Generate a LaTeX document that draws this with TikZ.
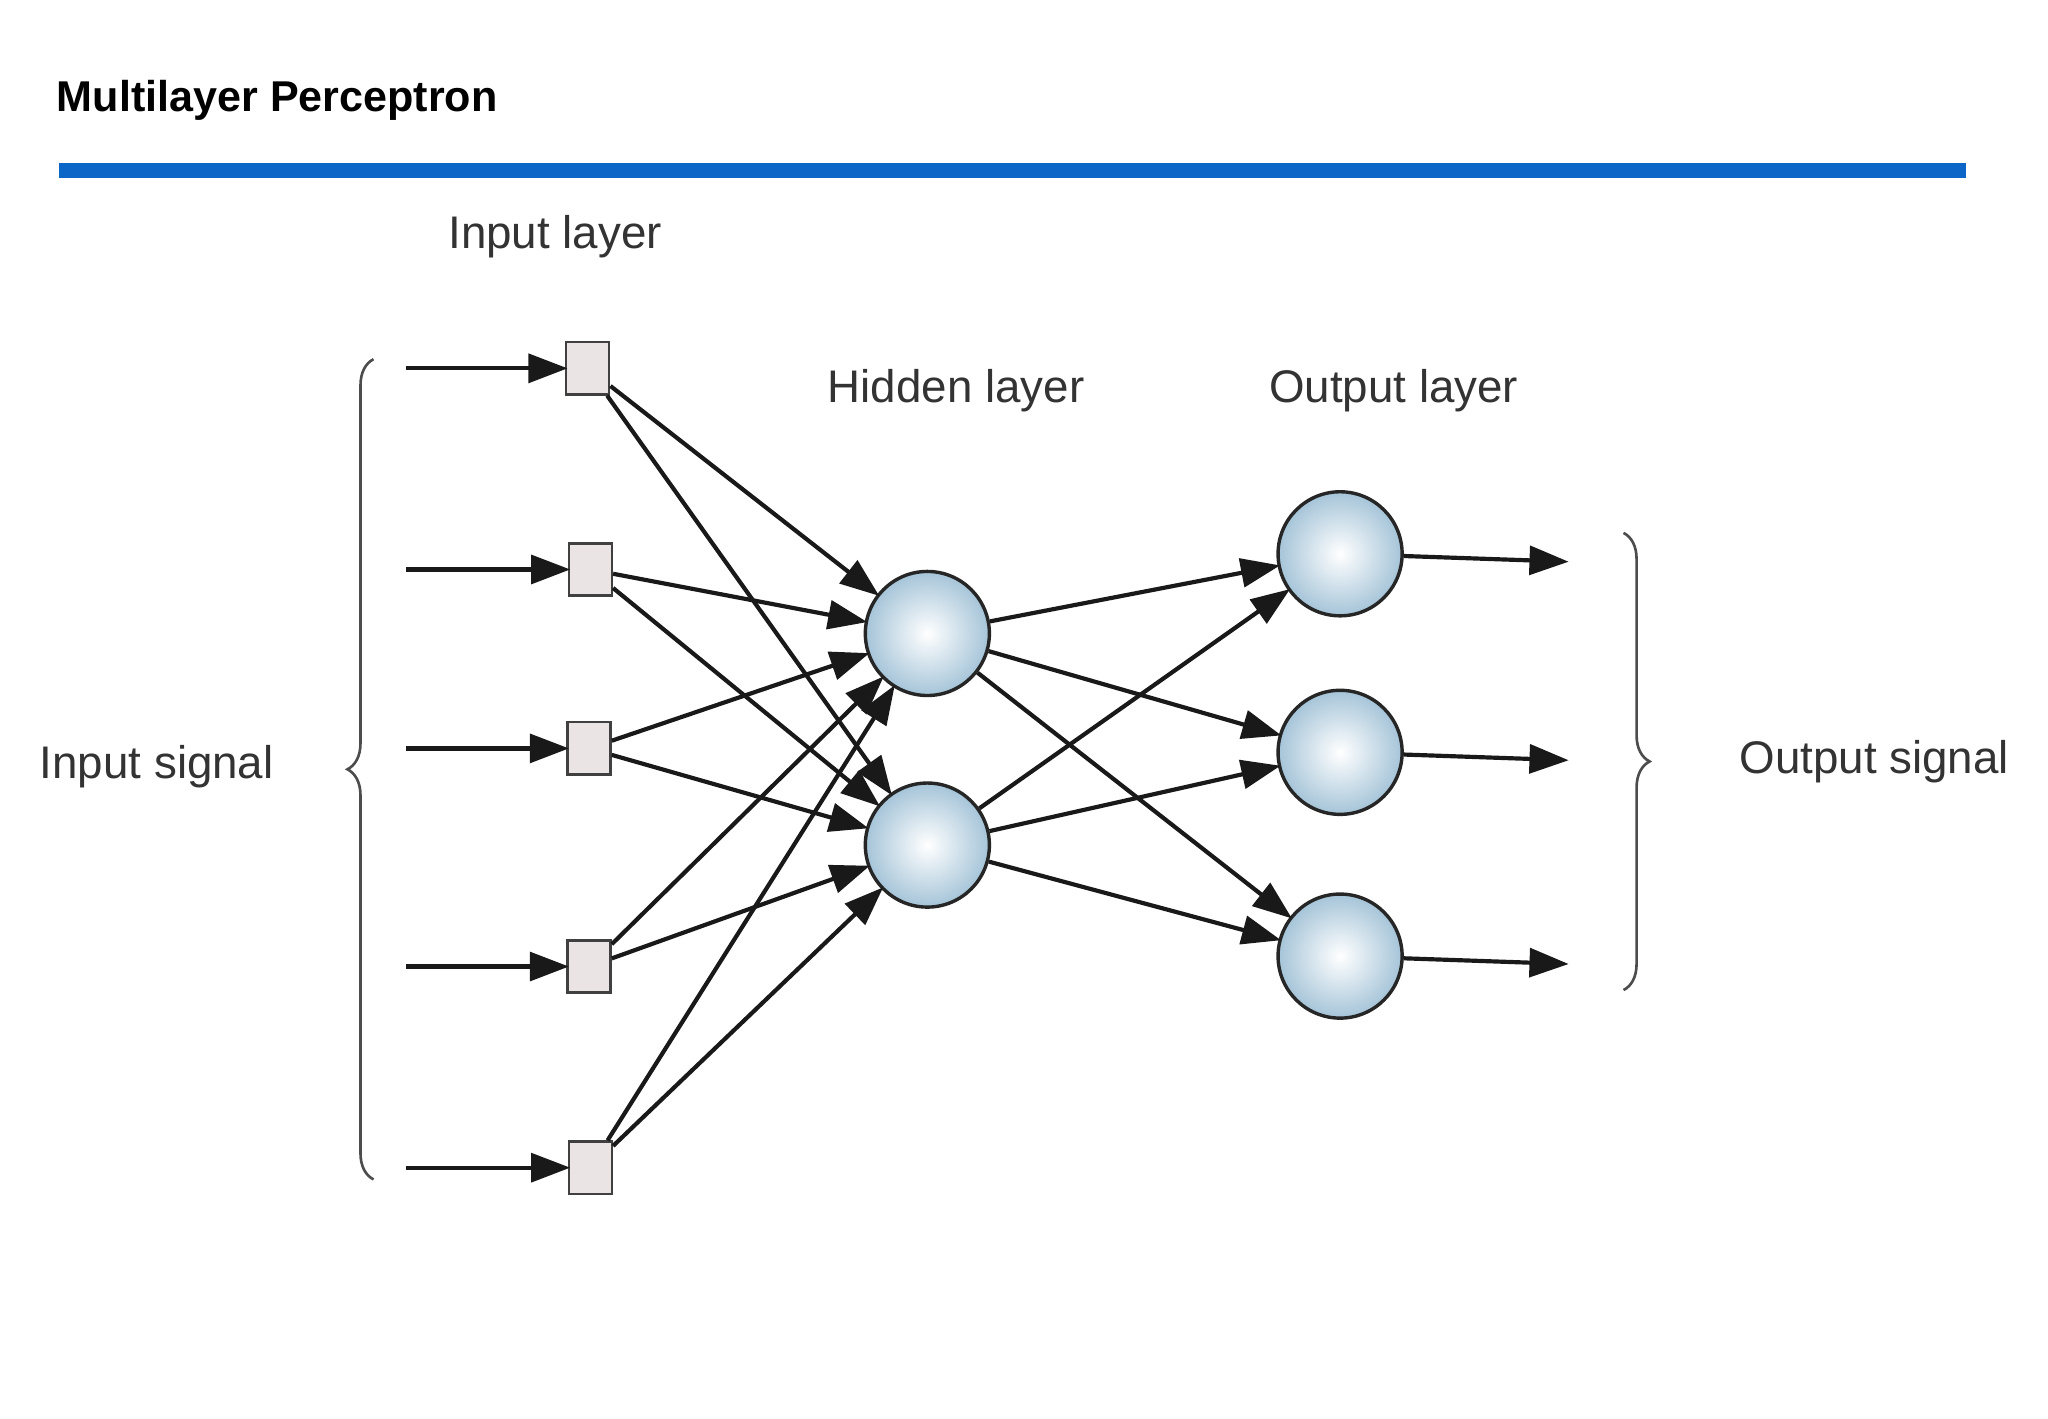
\documentclass[tikz,border=0pt]{standalone}
\usepackage{fontspec}
\setmainfont{Liberation Sans}
\usetikzlibrary{arrows.meta,decorations.pathreplacing}
\definecolor{barblue}{RGB}{11,102,200}
\definecolor{ballout}{RGB}{165,196,216}
\definecolor{sqfill}{RGB}{234,228,228}
\begin{document}
\begin{tikzpicture}[x=1pt,y=-1pt,
  sq/.style={draw=black!75,fill=sqfill,minimum width=33pt,minimum height=40pt,inner sep=0,line width=1.8pt},
  neuron/.style={circle,draw=black!85,line width=2.6pt,minimum size=95pt,inner sep=0,inner color=white,outer color=ballout},
  con/.style={-{Triangle[length=30pt,width=22pt]},line width=3.2pt,black!90,shorten >=-2pt},
  lbl/.style={font=\fontsize{35}{40}\selectfont,text=black!80},
  br/.style={line width=2pt,black!70,decorate,decoration={brace,amplitude=20pt}}]
\useasboundingbox (0,0) rectangle (1568,1086);
\fill[white] (0,0) rectangle (1568,1086);
\node[anchor=west,font=\bfseries\fontsize{33}{38}\selectfont] (title) at (40,77) {Multilayer Perceptron};
\fill[barblue] (45,125) rectangle (1505,136);
\node[lbl] (il) at (425,181) {Input layer};
\node[lbl] (hl) at (732,299) {Hidden layer};
\node[lbl] (ol) at (1067,299) {Output layer};
\node[lbl] (is) at (120,587) {Input signal};
\node[lbl] (os) at (1435,583) {Output signal};
\foreach \i/\x/\y in {1/450/282,2/452/436,3/451/573,4/451/740,5/452/894}{
  \node[sq] (s\i) at (\x,\y) {};
  \coordinate (a\i) at (311,\y);
  \draw[con] (a\i) -- (s\i.west);
}
\node[neuron] (h1) at (710,485) {};
\node[neuron] (h2) at (710,647) {};
\foreach \i/\y in {1/424,2/576,3/732}{
  \node[neuron] (o\i) at (1026,\y) {};
  \coordinate (e\i) at (1199,\y+6);
  \draw[con] (o\i) -- (e\i);
}
\foreach \i in {1,...,5}{\foreach \j in {1,2}{\draw[con] (s\i) -- (h\j);}}
\foreach \j in {1,2}{\foreach \k in {1,2,3}{\draw[con] (h\j) -- (o\k);}}
\draw[br] (286,903) -- (286,275);
\draw[br] (1243,408) -- (1243,758);
\end{tikzpicture}
\end{document}
